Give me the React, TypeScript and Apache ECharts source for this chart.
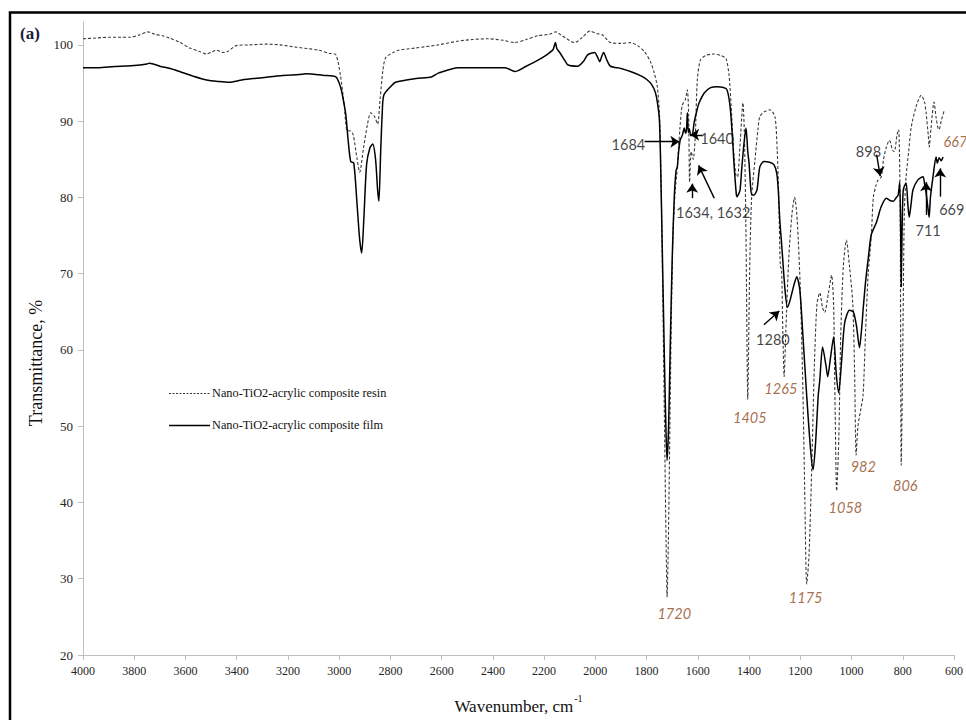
import React, { useEffect, useRef } from 'react';
import * as echarts from 'echarts';

const resinName = 'Nano-TiO2-acrylic composite resin';
const filmName = 'Nano-TiO2-acrylic composite film';

// [wavenumber (cm-1), transmittance (%)]
const resinSpectrum: number[][] = [
  [4000, 100.8], [3950, 100.9], [3900, 101.0], [3850, 101.0], [3817, 101.0], [3780, 101.3], [3747, 101.7],
  [3720, 101.4], [3690, 101.2], [3662, 100.9], [3620, 100.3], [3584, 99.6], [3550, 99.2], [3518, 98.8],
  [3495, 99.1], [3479, 99.3], [3455, 99.0], [3437, 99.1], [3402, 99.9], [3350, 100.0], [3285, 100.1],
  [3230, 100.0], [3168, 99.7], [3120, 99.5], [3079, 99.3], [3040, 98.9], [3013, 98.7], [2995, 96.0],
  [2980, 92.0], [2970, 88.8], [2955, 88.7], [2945, 88.2], [2930, 85.0], [2920, 83.3], [2905, 86.5],
  [2890, 89.5], [2877, 91.1], [2862, 90.6], [2850, 89.6], [2840, 93.0], [2830, 96.5], [2819, 98.3],
  [2790, 99.0], [2768, 99.3], [2700, 99.6], [2613, 100.0], [2535, 100.5], [2480, 100.7], [2418, 100.8],
  [2360, 100.6], [2314, 100.3], [2270, 100.7], [2224, 101.2], [2180, 101.4], [2154, 101.7], [2130, 101.2],
  [2080, 100.3], [2050, 101.0], [2022, 101.8], [1995, 101.5], [1972, 101.3], [1941, 100.3], [1900, 100.2],
  [1863, 100.3], [1835, 99.9], [1808, 99.1], [1785, 97.8], [1770, 96.3], [1758, 94.5], [1750, 91.1],
  [1745, 85.0], [1738, 70.0], [1730, 50.0], [1724, 35.0], [1720, 27.6], [1715, 35.0], [1709, 50.0],
  [1703, 65.0], [1696, 76.0], [1688, 81.0], [1680, 84.0], [1670, 89.0], [1661, 92.1], [1649, 92.8],
  [1641, 94.1], [1636, 91.0], [1632, 82.0], [1626, 86.0], [1618, 85.0], [1610, 88.0], [1602, 95.4],
  [1590, 98.0], [1570, 98.6], [1540, 98.8], [1510, 98.6], [1490, 98.2], [1478, 96.0], [1470, 92.0],
  [1460, 86.0], [1452, 83.0], [1445, 82.7], [1435, 87.0], [1424, 92.4], [1418, 88.0], [1412, 75.0],
  [1405, 53.5], [1398, 70.0], [1390, 80.0], [1377, 84.9], [1365, 89.0], [1358, 90.6], [1342, 91.2],
  [1319, 91.5], [1299, 90.6], [1290, 86.0], [1284, 80.0], [1278, 71.0], [1273, 70.5], [1268, 62.0],
  [1263, 56.5], [1257, 62.0], [1245, 72.0], [1232, 78.0], [1222, 80.0], [1212, 77.0], [1200, 68.0],
  [1190, 55.0], [1182, 40.0], [1175, 29.3], [1166, 33.0], [1155, 45.0], [1145, 58.0], [1135, 66.0],
  [1124, 67.5], [1113, 65.5], [1105, 64.9], [1090, 67.5], [1078, 69.8], [1070, 66.0], [1064, 52.0],
  [1058, 41.5], [1050, 48.0], [1042, 62.0], [1032, 71.0], [1020, 74.4], [1008, 71.0], [995, 66.0],
  [988, 57.0], [982, 46.2], [975, 50.0], [965, 52.0], [955, 54.0], [945, 62.6], [935, 70.0],
  [923, 74.8], [915, 80.0], [905, 81.5], [898, 82.2], [884, 82.7], [875, 85.0], [864, 86.6],
  [852, 87.5], [840, 86.2], [833, 86.0], [822, 88.3], [816, 88.9], [810, 78.0], [806, 44.9],
  [800, 60.0], [794, 78.0], [787, 82.7], [777, 86.0], [767, 89.2], [748, 91.9], [728, 93.4],
  [715, 92.5], [709, 91.1], [700, 88.0], [697, 86.6], [690, 89.0], [678, 92.5], [670, 90.5],
  [662, 89.0], [658, 88.9], [650, 90.0], [639, 91.3],
];

const filmSpectrum: number[][] = [
  [4000, 97.0], [3950, 97.0], [3900, 97.1], [3850, 97.2], [3800, 97.3], [3751, 97.5], [3740, 97.6],
  [3700, 97.2], [3660, 96.9], [3623, 96.5], [3570, 95.9], [3518, 95.4], [3470, 95.2], [3429, 95.1],
  [3380, 95.4], [3300, 95.7], [3220, 96.0], [3157, 96.1], [3130, 96.2], [3060, 96.0], [3013, 95.8],
  [2995, 94.5], [2985, 93.0], [2974, 90.8], [2965, 87.5], [2955, 84.7], [2943, 84.5], [2930, 79.0],
  [2920, 74.5], [2912, 72.7], [2904, 77.0], [2893, 84.3], [2880, 86.5], [2869, 87.0], [2858, 85.0],
  [2850, 81.0], [2845, 79.5], [2838, 86.0], [2832, 91.0], [2826, 93.4], [2800, 94.5], [2780, 95.1],
  [2700, 95.6], [2640, 95.8], [2613, 96.3], [2535, 97.0], [2484, 97.0], [2400, 97.0], [2352, 97.0],
  [2314, 96.5], [2270, 97.2], [2224, 98.0], [2190, 98.7], [2165, 99.4], [2156, 100.3], [2150, 99.5],
  [2139, 99.0], [2120, 98.0], [2108, 97.4], [2069, 97.2], [2045, 97.9], [2030, 98.7], [2003, 99.0],
  [1990, 98.3], [1983, 97.8], [1975, 98.5], [1968, 99.0], [1955, 98.0], [1941, 97.2], [1900, 96.9],
  [1863, 96.5], [1820, 95.9], [1797, 95.4], [1780, 94.8], [1766, 93.8], [1758, 92.5], [1750, 90.2],
  [1745, 84.0], [1738, 72.0], [1730, 58.0], [1724, 49.0], [1720, 45.5], [1714, 50.0], [1708, 60.0],
  [1700, 72.0], [1692, 80.0], [1685, 83.5], [1680, 84.0], [1675, 86.0], [1669, 87.5], [1660, 88.2],
  [1653, 89.1], [1648, 88.4], [1644, 89.0], [1641, 91.1], [1637, 88.5], [1633, 89.0], [1628, 88.2],
  [1622, 88.2], [1614, 89.9], [1605, 91.2], [1595, 92.4], [1575, 93.7], [1550, 94.4], [1525, 94.5],
  [1500, 94.4], [1486, 94.1], [1474, 91.9], [1465, 88.0], [1459, 84.5], [1450, 80.5], [1447, 80.1],
  [1440, 80.5], [1435, 81.0], [1428, 84.0], [1420, 87.0], [1412, 89.1], [1405, 86.0], [1400, 84.5],
  [1393, 81.0], [1388, 80.3], [1381, 80.3], [1369, 81.0], [1358, 84.0], [1342, 84.7], [1320, 84.6],
  [1303, 84.3], [1292, 83.2], [1286, 81.0], [1280, 77.0], [1272, 73.5], [1260, 68.0], [1250, 65.6],
  [1240, 66.5], [1225, 68.5], [1214, 69.6], [1202, 67.9], [1190, 62.0], [1175, 54.0], [1160, 47.0],
  [1150, 44.3], [1140, 48.0], [1130, 54.0], [1124, 56.0], [1113, 60.4], [1100, 58.0], [1093, 56.5],
  [1082, 59.0], [1070, 61.7], [1060, 57.0], [1050, 54.4], [1040, 58.0], [1027, 63.5], [1008, 65.2],
  [993, 65.0], [980, 63.0], [969, 60.3], [960, 63.0], [954, 65.6], [945, 69.0], [934, 72.2],
  [923, 75.1], [903, 76.7], [884, 78.8], [864, 79.9], [850, 79.6], [837, 79.5], [825, 80.0],
  [818, 80.3], [812, 82.0], [808, 75.0], [806, 68.3], [803, 75.0], [798, 81.0], [787, 81.9],
  [780, 79.0], [775, 77.4], [768, 79.0], [760, 81.0], [741, 82.3], [721, 82.7], [715, 81.8],
  [709, 80.6], [703, 79.0], [697, 77.4], [692, 80.0], [682, 82.7], [670, 85.3], [665, 84.5],
  [658, 85.2], [650, 84.8], [643, 85.3],
];

const yTickValues = [20, 30, 40, 50, 60, 70, 80, 90, 100];

// Peak annotation texts (black), anchored in data units
const blackLabels = [
  { text: '1684', w: 1871, t: 87.0, align: 'center' },
  { text: '1640', w: 1525, t: 87.7, align: 'center' },
  { text: '1634, 1632', w: 1540, t: 78.0, align: 'center' },
  { text: '1280', w: 1307, t: 61.4, align: 'center' },
  { text: '898', w: 934, t: 86.0, align: 'center' },
  { text: '711', w: 701, t: 75.7, align: 'center' },
  { text: '669', w: 660, t: 78.4, align: 'left' },
];

// Peak annotation texts (brown italic)
const brownLabels = [
  { text: '1720', w: 1692, t: 25.5, align: 'center' },
  { text: '1405', w: 1397, t: 51.2, align: 'center' },
  { text: '1265', w: 1276, t: 55.0, align: 'center' },
  { text: '1175', w: 1179, t: 27.5, align: 'center' },
  { text: '1058', w: 1024, t: 39.4, align: 'center' },
  { text: '982', w: 954, t: 44.7, align: 'center' },
  { text: '806', w: 790, t: 42.2, align: 'center' },
  { text: '667', w: 643, t: 87.3, align: 'left' },
];

// Arrows: [from wavenumber, from T, to wavenumber, to T]
const arrows = [
  [1808, 87.3, 1672, 87.3],
  [1583, 88.2, 1630, 88.2],
  [1622, 79.9, 1622, 81.8],
  [1536, 79.9, 1597, 84.2],
  [1342, 63.3, 1282, 65.1],
  [902, 85.6, 888, 82.8],
  [709, 77.7, 709, 82.0],
  [654, 80.1, 654, 83.8],
];

const BROWN = '#8f4a1a';
const SERIF = '"Liberation Serif", "Times New Roman", serif';
const SANS = 'Lato, "Open Sans", sans-serif';

function buildOption(): any {
  const labelData = [
    ...blackLabels.map((l) => ({
      value: [l.w, l.t],
      name: l.text,
      label: {
        color: '#111',
        fontStyle: 'normal',
        position: l.align === 'left' ? 'right' : 'inside',
        distance: 0,
      },
    })),
    ...brownLabels.map((l) => ({
      value: [l.w, l.t],
      name: l.text,
      label: {
        color: BROWN,
        fontStyle: 'italic',
        position: l.align === 'left' ? 'right' : 'inside',
        distance: 0,
      },
    })),
  ];

  return {
    animation: false,
    backgroundColor: '#ffffff',
    grid: { left: 83, right: 8, top: 22, bottom: 65, containLabel: false },
    xAxis: {
      type: 'value',
      inverse: true,
      min: 600,
      max: 4000,
      interval: 200,
      name: '{a|Wavenumber, cm}{b|-1}',
      nameLocation: 'middle',
      nameGap: 38,
      nameTextStyle: {
        rich: {
          a: { fontFamily: SERIF, fontSize: 17, color: '#111', lineHeight: 22, verticalAlign: 'bottom' },
          b: { fontFamily: SERIF, fontSize: 10, color: '#111', lineHeight: 22, verticalAlign: 'top', padding: [0, 0, 0, 1] },
        },
      },
      axisLine: { show: true, onZero: false, lineStyle: { color: '#bfbfbf', width: 1 } },
      axisTick: { show: true, inside: false, length: 5, lineStyle: { color: '#bfbfbf' } },
      axisLabel: {
        fontFamily: SERIF,
        fontSize: 12,
        color: '#262626',
        margin: 10,
        formatter: (v: number) => String(v),
      },
      splitLine: { show: false },
    },
    yAxis: {
      type: 'value',
      min: 20,
      max: 103,
      interval: 10,
      axisLine: { show: true, onZero: false, lineStyle: { color: '#bfbfbf', width: 1 } },
      axisTick: { show: true, length: 5, customValues: yTickValues, lineStyle: { color: '#bfbfbf' } },
      axisLabel: { fontFamily: SERIF, fontSize: 13, color: '#262626', margin: 10, customValues: yTickValues },
      splitLine: { show: false },
    },
    graphic: [
      {
        type: 'rect',
        shape: { x: 10, y: 12.5, width: 1000, height: 800 },
        style: { fill: 'none', stroke: '#000', lineWidth: 2.5 },
        silent: true,
        z: 100,
      },
      {
        type: 'text',
        x: 20,
        y: 33,
        style: {
          text: '(a)',
          fontFamily: SERIF,
          fontWeight: 'bold',
          fontSize: 17,
          fill: '#1b1b3a',
          align: 'left',
          verticalAlign: 'middle',
        },
        silent: true,
      },
      {
        type: 'text',
        x: 36,
        y: 363,
        rotation: Math.PI / 2,
        style: {
          text: 'Transmittance, %',
          fontFamily: SERIF,
          fontSize: 18,
          fill: '#111',
          align: 'center',
          verticalAlign: 'middle',
        },
        silent: true,
      },
      // legend
      {
        type: 'line',
        shape: { x1: 169, y1: 393.5, x2: 210, y2: 393.5 },
        style: { stroke: '#3a3a3a', lineWidth: 1, lineDash: [2, 1.5] },
        silent: true,
      },
      {
        type: 'text',
        x: 212,
        y: 393,
        style: {
          text: resinName,
          fontFamily: SERIF,
          fontSize: 12.3,
          fill: '#111',
          align: 'left',
          verticalAlign: 'middle',
        },
        silent: true,
      },
      {
        type: 'line',
        shape: { x1: 169, y1: 425.5, x2: 210, y2: 425.5 },
        style: { stroke: '#000', lineWidth: 1.5 },
        silent: true,
      },
      {
        type: 'text',
        x: 212,
        y: 425,
        style: {
          text: filmName,
          fontFamily: SERIF,
          fontSize: 12.3,
          fill: '#111',
          align: 'left',
          verticalAlign: 'middle',
        },
        silent: true,
      },
    ],
    series: [
      {
        name: resinName,
        type: 'line',
        data: resinSpectrum,
        symbol: 'none',
        showSymbol: false,
        smooth: 0.25,
        lineStyle: { color: '#3a3a3a', width: 1.1, type: [3, 2] },
        itemStyle: { color: '#3a3a3a' },
        emphasis: { disabled: true },
        silent: true,
        z: 2,
      },
      {
        name: filmName,
        type: 'line',
        data: filmSpectrum,
        symbol: 'none',
        showSymbol: false,
        smooth: 0.25,
        lineStyle: { color: '#000', width: 1.5, type: 'solid' },
        itemStyle: { color: '#000' },
        emphasis: { disabled: true },
        silent: true,
        z: 3,
        markLine: {
          silent: true,
          symbol: ['none', 'arrow'],
          symbolSize: 9,
          label: { show: false },
          lineStyle: { color: '#000', width: 1.4, type: 'solid' },
          emphasis: { disabled: true },
          data: arrows.map((a) => [{ coord: [a[0], a[1]] }, { coord: [a[2], a[3]] }]),
        },
      },
      {
        name: 'annotations',
        type: 'scatter',
        data: labelData,
        symbolSize: 1,
        clip: false,
        silent: true,
        itemStyle: { color: 'rgba(0,0,0,0)' },
        emphasis: { disabled: true },
        label: {
          show: true,
          formatter: '{b}',
          fontFamily: SANS,
          fontSize: 14.5,
        },
        z: 6,
      },
    ],
  };
}

export default function App() {
  const ref = useRef<HTMLDivElement>(null);
  useEffect(() => {
    if (!ref.current) return;
    const chart = echarts.init(ref.current, undefined, { renderer: 'svg' });
    chart.setOption(buildOption());
    return () => chart.dispose();
  }, []);
  return (
    <div
      ref={ref}
      style={{ position: 'fixed', left: 0, top: 0, width: 966, height: 720, background: '#fff', overflow: 'hidden' }}
    />
  );
}
